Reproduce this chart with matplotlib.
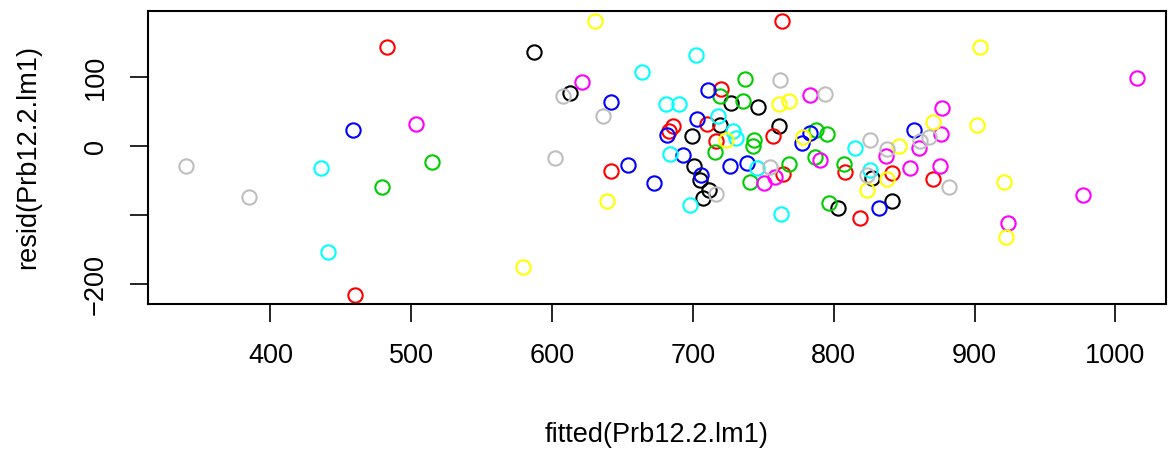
import matplotlib
matplotlib.use("Agg")
import matplotlib.pyplot as plt

plt.rcParams['font.family'] = ['Liberation Sans', 'DejaVu Sans']

# fitted / residual values, one pair of lists per R palette colour
black_x = [587.4, 613.0, 727.4, 745.9, 719.4, 761.5, 699.5, 700.9, 705.2, 711.3, 707.5, 826.9, 803.4, 841.3]
black_y = [135.4, 76.1, 62.6, 55.9, 30.8, 29.3, 14.9, -28.9, -49.6, -63.1, -74.7, -45.8, -89.2, -80.0]

red_x = [482.9, 459.8, 763.6, 719.9, 709.9, 686.2, 682.9, 716.5, 757.0, 641.9, 763.9, 807.7, 841.6, 870.7, 818.8]
red_y = [142.6, -214.9, 180.6, 82.4, 32.2, 28.4, 22.2, 7.7, 14.5, -36.6, -41.0, -37.1, -39.5, -47.7, -104.0]

green_x = [514.7, 479.0, 737.3, 718.9, 735.9, 743.5, 742.6, 787.4, 795.2, 715.4, 786.5, 768.2, 740.5, 807.5, 796.8]
green_y = [-22.6, -58.8, 96.4, 71.8, 65.5, 8.2, 0.0, 23.6, 16.9, -9.1, -16.0, -26.0, -51.6, -25.6, -82.4]

blue_x = [458.9, 641.9, 710.4, 702.9, 681.5, 693.3, 654.2, 705.4, 672.7, 726.3, 738.6, 777.4, 783.5, 857.0, 832.3]
blue_y = [23.1, 63.6, 80.5, 39.0, 15.4, -13.5, -27.9, -41.4, -53.5, -28.9, -24.1, 4.3, 18.8, 23.6, -89.6]

cyan_x = [436.1, 441.1, 702.3, 663.5, 681.0, 689.8, 683.8, 697.8, 717.8, 728.4, 730.5, 745.2, 762.7, 815.3, 826.0]
cyan_y = [-32.3, -152.7, 131.1, 107.4, 60.7, 60.7, -11.1, -85.7, 43.1, 22.1, 11.6, -31.8, -98.8, -2.9, -34.2]

magenta_x = [503.6, 621.5, 783.3, 758.2, 750.6, 790.6, 876.6, 876.2, 860.5, 837.1, 854.4, 875.5, 1015.4, 977.0, 923.5]
magenta_y = [31.3, 92.5, 73.3, -44.3, -54.0, -20.7, 54.9, 17.3, -3.4, -14.5, -31.8, -29.4, 98.3, -70.9, -111.3]

yellow_x = [630.6, 639.3, 579.6, 723.6, 761.5, 768.2, 778.1, 904.0, 870.5, 901.5, 846.5, 838.2, 824.0, 921.1, 922.6]
yellow_y = [181.1, -80.0, -175.3, 8.7, 60.7, 65.0, 12.6, 142.6, 35.1, 30.3, -0.5, -47.3, -63.1, -52.1, -131.5]

gray_x = [340.0, 384.7, 607.6, 636.2, 601.9, 716.5, 761.7, 755.1, 793.5, 867.9, 861.5, 838.2, 825.7, 882.1, 824.0]
gray_y = [-28.9, -73.7, 72.3, 43.8, -17.8, -69.4, 95.4, -30.8, 74.7, 13.0, 6.8, -4.4, 8.2, -59.2, -42.3]

groups = [
    (black_x, black_y, '#000000'),
    (red_x, red_y, '#FF0000'),
    (green_x, green_y, '#00CD00'),
    (blue_x, blue_y, '#0000FF'),
    (cyan_x, cyan_y, '#00FFFF'),
    (magenta_x, magenta_y, '#FF00FF'),
    (yellow_x, yellow_y, '#FFFF00'),
    (gray_x, gray_y, '#BEBEBE'),
]

fig = plt.figure(figsize=(11.68, 4.54), dpi=100)
ax = fig.add_axes([148/1168, 1 - 304/454, (1166 - 148)/1168, (304 - 10.7)/454])

for xs, ys, col in groups:
    ax.plot(xs, ys, linestyle='none', marker='o', markersize=10.3,
            markerfacecolor='none', markeredgecolor=col, markeredgewidth=1.5)

ax.set_xlim(313, 1036)
ax.set_ylim(-228.6, 195.8)
ax.set_xticks([400, 500, 600, 700, 800, 900, 1000])
ax.set_yticks([-200, -100, 0, 100])
ax.set_yticklabels(['\u2212200', '', '0', '100'], rotation=90, va='center')

for s in ax.spines.values():
    s.set_linewidth(1.5)
ax.tick_params(length=13, width=1.2, labelsize=19.5, pad=15)

ax.set_xlabel('fitted(Prb12.2.lm1)', fontsize=19.5, labelpad=38)
ax.set_ylabel('resid(Prb12.2.lm1)', fontsize=19.5, labelpad=30)

fig.savefig('out.png', dpi=100)
